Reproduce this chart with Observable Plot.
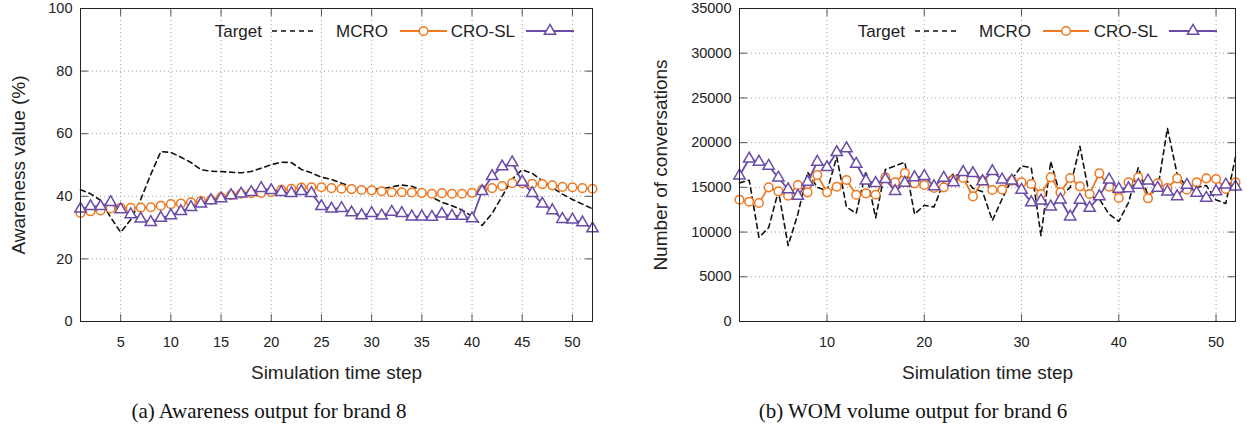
<!DOCTYPE html>
<html>
<head>
<meta charset="utf-8">
<script src="https://cdn.jsdelivr.net/npm/d3@7"></script>
<script src="https://cdn.jsdelivr.net/npm/@observablehq/plot@0.6"></script>
<style>
  body { margin: 0; background: #fff; }
  #fig { position: relative; width: 1247px; height: 435px; background: #fff; font-family: "Liberation Sans", Arial, sans-serif; color: #222; }
  .panel { position: absolute; top: 0; }
  .cap { position: absolute; top: 398px; font-family: "Liberation Serif", "DejaVu Serif", serif; font-size: 21px; line-height: 26px; color: #111; transform: translateX(-50%); white-space: nowrap; }
  .leg { position: absolute; top: 0; left: 0; pointer-events: none; }
</style>
</head>
<body>
<div id="fig">
  <div class="panel" id="pa" style="left:0px"></div>
  <div class="panel" id="pb" style="left:623px"></div>
  <div class="cap" style="left:269px">(a) Awareness output for brand 8</div>
  <div class="cap" style="left:913px">(b) WOM volume output for brand 6</div>
</div>
<script>
// ---------- data ----------
const steps = [1,2,3,4,5,6,7,8,9,10,11,12,13,14,15,16,17,18,19,20,21,22,23,24,25,26,
  27,28,29,30,31,32,33,34,35,36,37,38,39,40,41,42,43,44,45,46,47,48,49,50,51,52];

const seriesNames = ["Target", "MCRO", "CRO-SL"];

// (a) Awareness, brand 8 (%)
const awTarget = [42.1,40.8,38.7,33.3,28.5,32.5,39,47,54.3,54,52.5,50.8,48.5,48,47.9,47.7,47.5,47.9,49,50.1,
  50.9,50.8,48.6,47.5,46.1,45.4,44.2,43.1,42.4,42.2,42.4,43,43.6,43.2,42,39.7,38.1,37,35.6,33.6,
  30.7,34.5,40,45.5,48.5,47.3,45,42.8,40.7,39,37.5,36];
const awMCRO = [34.7,35.2,35.5,36.1,36.3,36.3,36.4,36.5,37,37.5,37.7,38.1,38.5,38.9,39.7,40.4,40.8,41,41.1,41.4,
  42.1,42.4,42.8,42.9,42.9,42.6,42.4,42.3,42,41.9,41.6,41.3,41.3,41.2,41.1,40.8,41,40.8,40.8,41.1,
  42.1,42.6,43.3,44.2,44.2,44,43.9,43.5,43,42.9,42.6,42.4];
const awCROSL = [36,36.8,36.8,38.1,35.8,34.2,32.8,31.7,33.1,33.9,35.2,36.5,37.6,38.7,39.3,40.3,40.8,41.3,42.6,41.9,
  41.3,41,41.6,41,36.8,36,36.2,34.8,33.9,34.6,33.8,35,34.6,33.5,33.5,33.4,34.4,33.7,33.7,32.9,
  41.6,46.4,49.5,50.8,44.6,41,37.6,35.5,32.7,32.5,31.6,29.7];

// (b) WOM volume, brand 6 (number of conversations)
const womTarget = [15500,15800,9400,10500,14600,8500,12000,16700,15000,14600,18400,12800,12100,16800,11600,17000,
  17400,17800,12000,13000,12800,15600,16500,16200,14900,14500,11300,13700,15900,17400,17200,9600,
  17900,14000,15000,19600,14000,13700,12000,11200,13300,17200,14100,14800,21600,16500,15000,15000,
  15200,13600,13200,18400];
const womMCRO = [13622,13398,13249,14999,14551,14066,15260,14439,16379,14439,15074,15820,14178,14327,14178,16118,
  15558,16603,15446,15260,14924,14999,15857,16043,13991,15748,14707,14744,15748,15558,15379,14260,
  16118,14439,16051,15110,14260,16566,15077,13812,15558,16118,13775,15446,14931,16006,14744,15558,
  16006,15938,14819,15558];
const womCROSL = [16304,18200,17850,17390,16080,14760,14030,15600,17850,17237,18916,19350,17614,15746,15470,15900,
  14570,15500,16118,16250,15110,16047,15558,16700,16566,15670,16789,15860,15748,14707,13320,13510,
  12838,13622,11719,13589,12693,13991,15860,14819,14886,15267,15748,14931,14517,13991,15267,14372,
  13812,14551,15301,15077];

// axis ticks
const awXTicks = [5,10,15,20,25,30,35,40,45,50];
const awYTicks = [0,20,40,60,80,100];
const womXTicks = [10,20,30,40,50];
const womYTicks = [0,5000,10000,15000,20000,25000,30000,35000];

const xTitle = "Simulation time step";

// ---------- style ----------
const ORANGE = "#f07820";
const PURPLE = "#6a4ca8";
const H = 395;
const tickShape = {draw(c, l) { c.moveTo(0, 0); c.lineTo(0, -l); }};

function chart({width, marginLeft, marginRight, yDomain, xTicks, yTicks, target, mcro, crosl, yTitle, yTitleDx}) {
  const tk = {length: 7, anchor: "start", shape: tickShape, stroke: "#555", strokeWidth: 1};
  return Plot.plot({
    width, height: H,
    marginLeft, marginRight, marginTop: 8, marginBottom: 74,
    style: {fontFamily: "Liberation Sans, Arial, sans-serif", fontSize: "14.5px", color: "#222", background: "#fff"},
    x: {domain: [1, 52]},
    y: {domain: yDomain},
    marks: [
      Plot.gridX(xTicks, {stroke: "#a0a0a0", strokeOpacity: 1, strokeDasharray: "1,3"}),
      Plot.gridY(yTicks, {stroke: "#a0a0a0", strokeOpacity: 1, strokeDasharray: "1,3"}),
      Plot.axisX({ticks: xTicks, tickSize: 0, tickPadding: 15, label: null, tickFormat: d3.format("d")}),
      Plot.axisY({ticks: yTicks, tickSize: 0, tickPadding: 8, label: null, tickFormat: d3.format("d")}),
      Plot.vector(xTicks, {...tk, x: d => d, frameAnchor: "bottom", rotate: 0}),
      Plot.vector(xTicks, {...tk, x: d => d, frameAnchor: "top", rotate: 180}),
      Plot.vector(yTicks, {...tk, y: d => d, frameAnchor: "left", rotate: 90}),
      Plot.vector(yTicks, {...tk, y: d => d, frameAnchor: "right", rotate: -90}),
      Plot.text([xTitle], {text: d => d, frameAnchor: "bottom", textAnchor: "middle", dy: 57, fontSize: 19, fill: "#222"}),
      Plot.text([yTitle], {text: d => d, frameAnchor: "left", textAnchor: "middle", lineAnchor: "middle", rotate: -90, dx: yTitleDx, fontSize: 19, fill: "#222"}),
      // Target
      Plot.line(steps, {x: steps, y: target, stroke: "#111", strokeWidth: 1.6, strokeDasharray: "5,4"}),
      // MCRO
      Plot.line(steps, {x: steps, y: mcro, stroke: ORANGE, strokeWidth: 1.8}),
      Plot.dot(steps, {x: steps, y: mcro, r: 4.3, stroke: ORANGE, strokeWidth: 1.5, fill: "white", symbol: "circle"}),
      // CRO-SL
      Plot.line(steps, {x: steps, y: crosl, stroke: PURPLE, strokeWidth: 1.8}),
      Plot.dot(steps, {x: steps, y: crosl, r: 4.2, stroke: PURPLE, strokeWidth: 1.5, fill: "white", symbol: "triangle"}),
      Plot.frame({stroke: "#222", strokeWidth: 1})
    ]
  });
}

function legend(panel, items) {
  const svg = d3.select(panel).append("svg").attr("class", "leg").attr("width", 624).attr("height", 60);
  const y = 31;
  items.forEach(it => {
    svg.append("text").attr("x", it.textRight).attr("y", y).attr("dy", "0.35em")
      .attr("text-anchor", "end").attr("font-family", "Liberation Sans, Arial, sans-serif")
      .attr("font-size", 17).attr("fill", "#222").text(it.label);
    const ln = svg.append("line").attr("x1", it.x0).attr("x2", it.x1).attr("y1", y).attr("y2", y);
    const cx = (it.x0 + it.x1) / 2;
    if (it.kind === "target") {
      ln.attr("stroke", "#111").attr("stroke-width", 1.6).attr("stroke-dasharray", "5,4");
    } else if (it.kind === "mcro") {
      ln.attr("stroke", ORANGE).attr("stroke-width", 1.8);
      svg.append("circle").attr("cx", cx).attr("cy", y).attr("r", 4.3).attr("fill", "white")
        .attr("stroke", ORANGE).attr("stroke-width", 1.5);
    } else {
      ln.attr("stroke", PURPLE).attr("stroke-width", 1.8);
      svg.append("path").attr("d", d3.symbol(d3.symbolTriangle, Math.PI * 4.2 * 4.2)())
        .attr("transform", `translate(${cx},${y})`).attr("fill", "white")
        .attr("stroke", PURPLE).attr("stroke-width", 1.5);
    }
  });
}

const pa = document.getElementById("pa");
const pb = document.getElementById("pb");

pa.appendChild(chart({
  width: 623, marginLeft: 80, marginRight: 31, yDomain: [0, 100],
  xTicks: awXTicks, yTicks: awYTicks,
  target: awTarget, mcro: awMCRO, crosl: awCROSL,
  yTitle: "Awareness value (%)", yTitleDx: -62
}));
pb.appendChild(chart({
  width: 624, marginLeft: 116, marginRight: 12, yDomain: [0, 35000],
  xTicks: womXTicks, yTicks: womYTicks,
  target: womTarget, mcro: womMCRO, crosl: womCROSL,
  yTitle: "Number of conversations", yTitleDx: -79
}));

legend(pa, [
  {label: seriesNames[0], textRight: 262, x0: 272, x1: 317, kind: "target"},
  {label: seriesNames[1], textRight: 388, x0: 400, x1: 447, kind: "mcro"},
  {label: seriesNames[2], textRight: 515, x0: 526, x1: 574, kind: "crosl"}
]);
legend(pb, [
  {label: seriesNames[0], textRight: 905 - 623, x0: 915 - 623, x1: 960 - 623, kind: "target"},
  {label: seriesNames[1], textRight: 1031 - 623, x0: 1043 - 623, x1: 1089 - 623, kind: "mcro"},
  {label: seriesNames[2], textRight: 1158 - 623, x0: 1169 - 623, x1: 1217 - 623, kind: "crosl"}
]);
</script>
</body>
</html>
